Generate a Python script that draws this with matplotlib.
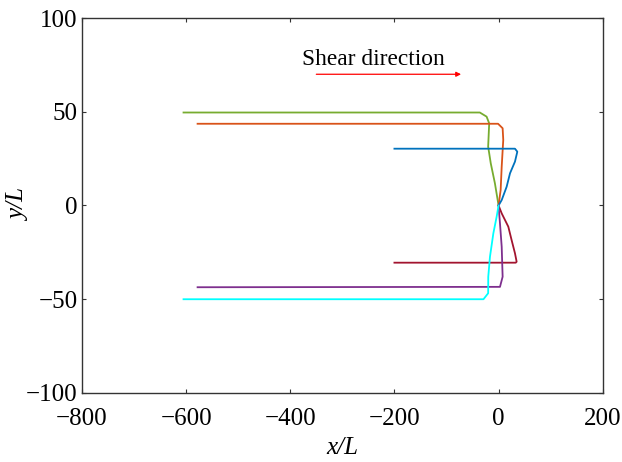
import matplotlib
matplotlib.use("Agg")
import matplotlib.pyplot as plt

plt.rcParams["font.family"] = ["Liberation Serif", "DejaVu Serif"]
plt.rcParams["axes.unicode_minus"] = True

# 궤적 데이터 (x/L, y/L) - 그림에서 읽은 값
green_x = [-605, -36, -23, -18, -20, -15, -7, 0]
green_y = [49.6, 49.6, 47.4, 43.8, 31.4, 22.5, 11.8, 0]

orange_x = [-578, -1, 7.8, 9, 6, 4, 0]
orange_y = [43.6, 43.6, 41.2, 35, 20.7, 8.3, 0]

blue_x = [-200, 31.5, 36, 31.5, 22, 15.5, 6, 0]
blue_y = [30.3, 30.3, 28.7, 23.4, 17.2, 10, 2.9, 0]

red_x = [0, 6, 18.7, 25, 31.5, 34.7, 33, -200]
red_y = [0, -4.2, -11.3, -18.4, -25.5, -30, -30.5, -30.5]

purple_x = [0, 2.7, 6, 7.8, 2.7, -578]
purple_y = [0, -9.5, -22, -38, -43.4, -43.6]

cyan_x = [0, -3.7, -10, -16.5, -19.8, -20, -29, -605]
cyan_y = [0, -6, -14.8, -27.3, -38, -46.8, -50, -50]

series = [
    (green_x, green_y, "#77AC30"),
    (orange_x, orange_y, "#D95319"),
    (blue_x, blue_y, "#0072BD"),
    (red_x, red_y, "#A2142F"),
    (purple_x, purple_y, "#7E2F8E"),
    (cyan_x, cyan_y, "#00FFFF"),
]

xticks = [-800, -600, -400, -200, 0, 200]
yticks = [-100, -50, 0, 50, 100]

fig = plt.figure(figsize=(6.22, 4.62), dpi=100)
ax = fig.add_axes([0.1318, 0.1494, 0.969 - 0.1318, 0.961 - 0.1494])

for xs, ys, col in series:
    ax.plot(xs, ys, color=col, lw=1.3)

ax.annotate("", xy=(-72, 70), xytext=(-350, 70),
            arrowprops=dict(arrowstyle="-|>", color="red", lw=0.9,
                            mutation_scale=7, shrinkA=0, shrinkB=0))
ax.text(-241, 78, "Shear direction", ha="center", va="center", fontsize=16.8)

ax.set_xlim(-800, 200)
ax.set_ylim(-100, 100)
ax.set_xticks(xticks)
ax.set_yticks(yticks)
ax.tick_params(direction="in", length=3, width=0.8, labelsize=18,
               color="#333333", top=True, right=True)
ax.tick_params(axis="x", pad=11)
ax.tick_params(axis="y", pad=3)
for s in ax.spines.values():
    s.set_linewidth(1.0)
    s.set_color("#333333")

ax.set_xlabel("x/L", fontsize=18, fontstyle="italic", labelpad=5)
ax.set_ylabel("y/L", fontsize=18, fontstyle="italic")
ax.yaxis.set_label_coords(-0.100, 0.5)

fig.savefig("out.png", dpi=100)
